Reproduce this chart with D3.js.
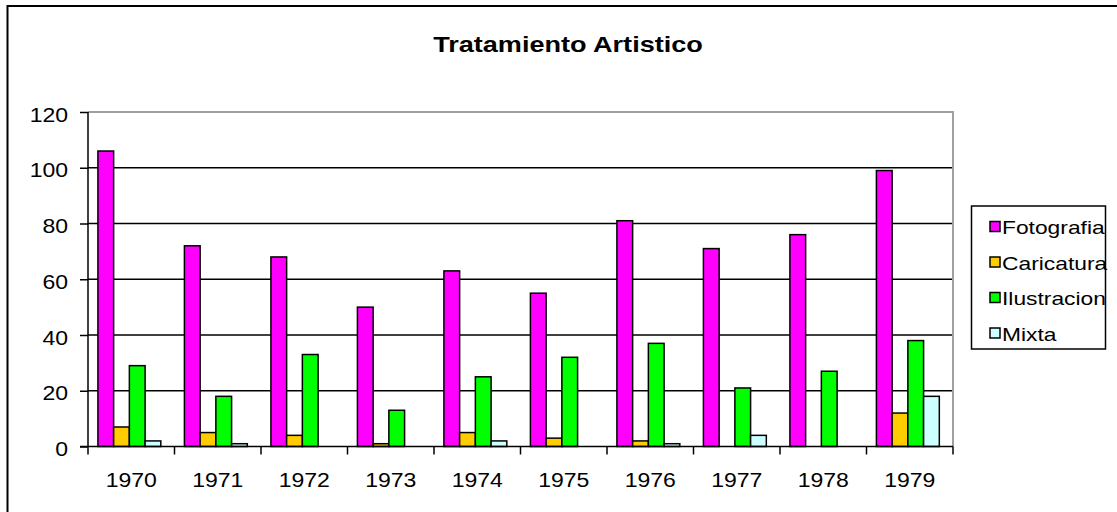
<!DOCTYPE html>
<html>
<head>
<meta charset="utf-8">
<script src="https://cdn.jsdelivr.net/npm/d3@7"></script>
<style>
	body { margin: 0; background: #fff; }
	text { font-family: "Liberation Sans", Arial, sans-serif; fill: #000; }
</style>
</head>
<body>
<div id="chart"></div>
<script>
	// datos
	var years = ["1970", "1971", "1972", "1973", "1974", "1975", "1976", "1977", "1978", "1979"];
	var series = ["Fotografia", "Caricatura", "Ilustracion", "Mixta"];
	var fotografia = [106, 72, 68, 50, 63, 55, 81, 71, 76, 99];
	var caricatura = [7, 5, 4, 1, 5, 3, 2, 0, 0, 12];
	var ilustracion = [29, 18, 33, 13, 25, 32, 37, 21, 27, 38];
	var mixta = [2, 1, 0, 0, 2, 0, 1, 4, 0, 18];
	var yTicks = [0, 20, 40, 60, 80, 100, 120];
	var colors = ["#ff00ff", "#ffcc00", "#00ff00", "#ccffff"];

	var values = [fotografia, caricatura, ilustracion, mixta];

	var width = 1117, height = 512;
	var plotLeft = 88, plotRight = 953, plotTop = 112, plotBottom = 446.5;

	var svg = d3.select("#chart").append("svg")
	.attr("width", width)
	.attr("height", height);

	// el texto del original esta algo ensanchado
	function stretch(sel, k) {
		sel.each(function() {
			var w = this.getComputedTextLength();
			d3.select(this).attr("textLength", w * k).attr("lengthAdjust", "spacingAndGlyphs");
		});
	}

	// marco exterior
	svg.append("rect")
	.attr("x", 7.5)
	.attr("y", 6)
	.attr("width", width + 20)
	.attr("height", height + 20)
	.attr("fill", "none")
	.attr("stroke", "#000")
	.attr("stroke-width", 2);

	var x = d3.scaleBand()
	.domain(years)
	.range([plotLeft, plotRight]);

	var xs = d3.scaleBand()
	.domain(series)
	.range([0, x.bandwidth()])
	.paddingOuter(0.75)
	.align(0.42);

	var y = d3.scaleLinear()
	.domain([0, 120])
	.range([plotBottom, plotTop]);

	// lineas de division
	svg.append("g")
	.selectAll("line")
	.data(yTicks.filter(function(d) { return d > 0 && d < 120; }))
	.enter().append("line")
	.attr("x1", plotLeft)
	.attr("x2", plotRight)
	.attr("y1", function(d) { return y(d); })
	.attr("y2", function(d) { return y(d); })
	.attr("stroke", "#000")
	.attr("stroke-width", 1.5);

	// borde gris del area de trazado
	svg.append("path")
	.attr("d", "M" + plotLeft + "," + y(120) + "H" + plotRight + "V" + y(0))
	.attr("fill", "none")
	.attr("stroke", "#a0a0a0")
	.attr("stroke-width", 2);

	// barras
	var group = svg.selectAll(".year")
	.data(years)
	.enter().append("g")
	.attr("class", "year")
	.attr("transform", function(d) { return "translate(" + x(d) + ",0)"; });

	group.selectAll("rect")
	.data(function(d, i) {
		return series.map(function(s, j) { return {serie: s, v: values[j][i], c: colors[j]}; });
	})
	.enter().filter(function(d) { return d.v > 0; })
	.append("rect")
	.attr("x", function(d) { return xs(d.serie); })
	.attr("y", function(d) { return y(d.v); })
	.attr("width", xs.bandwidth())
	.attr("height", function(d) { return y(0) - y(d.v); })
	.attr("fill", function(d) { return d.c; })
	.attr("stroke", "#000")
	.attr("stroke-width", 1.5);

	// eje y
	var yAxis = svg.append("g")
	.attr("transform", "translate(" + plotLeft + ",0)")
	.call(d3.axisLeft(y).tickValues(yTicks).tickSize(8).tickPadding(12));
	yAxis.selectAll("line").attr("stroke", "#000").attr("stroke-width", 1.5);
	yAxis.select(".domain").attr("stroke", "#000").attr("stroke-width", 1.5).attr("d", "M0," + y(120) + "V" + y(0));
	yAxis.selectAll("text")
	.attr("font-size", 20)
	.attr("font-family", "Liberation Sans, Arial, sans-serif")
	.attr("dy", "0.45em")
	.call(stretch, 1.15);

	// eje x: etiquetas centradas, marcas entre categorias
	var xAxis = svg.append("g")
	.attr("transform", "translate(0," + plotBottom + ")")
	.call(d3.axisBottom(x).tickSize(0).tickPadding(26));
	xAxis.select(".domain").attr("stroke", "#000").attr("stroke-width", 1.5).attr("d", "M" + (plotLeft - 8) + ",0H" + plotRight);
	xAxis.selectAll("text")
	.attr("font-size", 20)
	.attr("font-family", "Liberation Sans, Arial, sans-serif")
	.call(stretch, 1.15);

	xAxis.selectAll(".sep")
	.data(years.concat(["end"]))
	.enter().append("line")
	.attr("class", "sep")
	.attr("x1", function(d) { return d == "end" ? plotRight : x(d); })
	.attr("x2", function(d) { return d == "end" ? plotRight : x(d); })
	.attr("y1", 0)
	.attr("y2", 8)
	.attr("stroke", "#000")
	.attr("stroke-width", 1.5);

	// titulo
	svg.append("text")
	.attr("x", 568)
	.attr("y", 51.5)
	.attr("text-anchor", "middle")
	.attr("font-size", 22)
	.attr("font-weight", "bold")
	.text("Tratamiento Artistico")
	.call(stretch, 1.23);

	// leyenda
	var ly = d3.scalePoint()
	.domain(series)
	.range([227.5, 334]);

	svg.append("rect")
	.attr("x", 971.5)
	.attr("y", 206)
	.attr("width", 134)
	.attr("height", 143)
	.attr("fill", "#fff")
	.attr("stroke", "#000")
	.attr("stroke-width", 1.5);

	var item = svg.selectAll(".legend")
	.data(series)
	.enter().append("g")
	.attr("class", "legend")
	.attr("transform", function(d) { return "translate(990," + ly(d) + ")"; });

	item.append("rect")
	.attr("x", 0)
	.attr("y", -6)
	.attr("width", 10)
	.attr("height", 10)
	.attr("fill", function(d, i) { return colors[i]; })
	.attr("stroke", "#000")
	.attr("stroke-width", 1.5);

	item.append("text")
	.attr("x", 12)
	.attr("dy", "0.36em")
	.attr("font-size", 19)
	.text(function(d) { return d; })
	.call(stretch, 1.2);
</script>
</body>
</html>
